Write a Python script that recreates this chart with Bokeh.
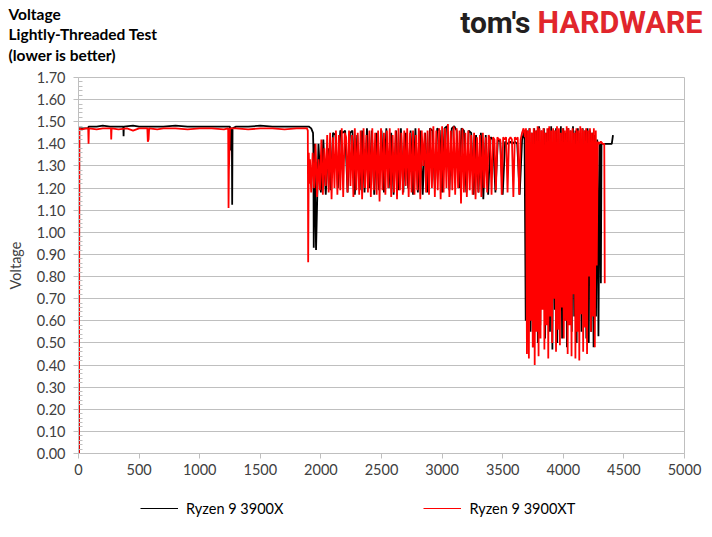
from bokeh.plotting import figure
from bokeh.layouts import column
from bokeh.models import Range1d, FixedTicker, NumeralTickFormatter, Label, Legend, ColumnDataSource
from bokeh.embed import file_html
from bokeh.resources import INLINE

# ---------------- data (seconds, volts) ----------------
# Ryzen 9 3900X : plateau
x_3900x_a = [4, 6, 40, 80, 83, 150, 200, 260, 300, 370, 372, 374, 450, 500, 600, 700, 800, 900,
             1000, 1100, 1200, 1250, 1255, 1259, 1265, 1268, 1271, 1300, 1400, 1500, 1600, 1700,
             1800, 1900, 1920, 1935, 1938, 1941, 1946, 1952]
v_3900x_a = [0.00, 1.47, 1.47, 1.47, 1.478, 1.478, 1.482, 1.478, 1.478, 1.478, 1.435, 1.478, 1.482,
             1.478, 1.478, 1.478, 1.482, 1.478, 1.478, 1.478, 1.478, 1.478, 1.37, 1.47, 1.47, 1.125,
             1.47, 1.478, 1.478, 1.482, 1.478, 1.478, 1.478, 1.478, 1.47, 1.45, 1.38, 0.93, 1.40, 1.20]
# Ryzen 9 3900X : busy section, sampled every 20 s from 1960 s
t0_3900x_b, dt_3900x_b = 1960, 20
v_3900x_b = [0.92, 1.40, 1.18, 1.42, 1.17, 1.38, 1.19, 1.45, 1.44, 1.20,
             1.46, 1.45, 1.46, 1.18, 1.45, 1.46, 1.17, 1.44, 1.19, 1.46,
             1.18, 1.47, 1.20, 1.46, 1.17, 1.45, 1.19, 1.46, 1.18, 1.47,
             1.20, 1.45, 1.17, 1.46, 1.19, 1.47, 1.18, 1.45, 1.20, 1.46,
             1.17, 1.47, 1.18, 1.46, 1.17, 1.45, 1.18, 1.47, 1.46, 1.20,
             1.47, 1.46, 1.18, 1.47, 1.48, 1.19, 1.47, 1.48, 1.46, 1.20,
             1.47, 1.46, 1.18, 1.46, 1.45, 1.17, 1.44, 1.18, 1.45, 1.15,
             1.44, 1.17, 1.43, 1.42, 1.18, 1.42, 1.41, 1.17, 1.41, 1.40,
             1.41, 1.40, 1.41, 1.40, 1.17, 1.42, 1.46]
# Ryzen 9 3900X : deep swings, sampled every 10 s from 3690 s
t0_3900x_c, dt_3900x_c = 3690, 10
v_3900x_c = [0.60, 1.46, 0.75, 1.47, 0.55, 1.45, 0.48, 1.47, 0.62, 1.46,
             0.50, 1.48, 0.58, 1.46, 0.70, 1.47, 0.52, 1.45, 0.90, 1.47,
             0.55, 1.48, 0.47, 1.46, 0.65, 1.47, 0.50, 1.46, 0.80, 1.48,
             0.52, 1.47, 0.60, 1.45, 0.48, 1.47, 0.70, 1.46, 0.55, 1.48,
             0.62, 1.46, 0.50, 1.47, 0.75, 1.45, 0.55, 1.47, 0.68, 1.46,
             0.52, 1.47, 0.50, 1.46, 0.55, 1.45, 0.48, 1.44, 0.62, 1.42,
             0.53]
x_3900x_d = [4300, 4310, 4315, 4350, 4380, 4400, 4410]
v_3900x_d = [1.40, 0.77, 1.40, 1.40, 1.40, 1.40, 1.44]

# Ryzen 9 3900XT : plateau
x_3900xt_a = [4, 7, 30, 60, 80, 83, 86, 150, 200, 268, 270, 273, 330, 400, 450, 500, 568, 572,
              578, 583, 650, 700, 800, 900, 1000, 1100, 1200, 1235, 1238, 1241, 1250, 1300,
              1400, 1500, 1600, 1700, 1800, 1885, 1892, 1895, 1900, 1905, 1910]
v_3900xt_a = [0.00, 1.47, 1.465, 1.47, 1.47, 1.40, 1.47, 1.465, 1.47, 1.47, 1.42, 1.47, 1.465,
              1.47, 1.46, 1.47, 1.47, 1.41, 1.42, 1.47, 1.465, 1.47, 1.47, 1.465, 1.47, 1.47,
              1.465, 1.47, 1.11, 1.28, 1.47, 1.47, 1.465, 1.47, 1.47, 1.465, 1.47, 1.47, 1.46,
              0.865, 1.36, 1.22, 1.33]
# Ryzen 9 3900XT : busy section, every 12 s from 1920 s
t0_3900xt_b, dt_3900xt_b = 1920, 12
v_3900xt_b = [1.18, 1.36, 1.20, 1.40, 1.16, 1.33, 1.19, 1.42, 1.17, 1.38,
              1.21, 1.44, 1.18, 1.45, 1.15, 1.43, 1.20, 1.46, 1.17, 1.44,
              1.19, 1.47, 1.16, 1.45, 1.43, 1.18, 1.46, 1.21, 1.44, 1.16,
              1.47, 1.19, 1.45, 1.17, 1.46, 1.15, 1.47, 1.20, 1.44, 1.18,
              1.46, 1.16, 1.47, 1.19, 1.45, 1.17, 1.46, 1.14, 1.47, 1.19,
              1.45, 1.17, 1.46, 1.20, 1.47, 1.16, 1.44, 1.18, 1.46, 1.15,
              1.47, 1.19, 1.45, 1.17, 1.46, 1.21, 1.47, 1.16, 1.45, 1.18,
              1.46, 1.17, 1.44, 1.19, 1.47, 1.15, 1.46, 1.30, 1.45, 1.18,
              1.46, 1.17, 1.47, 1.20, 1.48, 1.16, 1.46, 1.19, 1.47, 1.15,
              1.48, 1.18, 1.47, 1.20, 1.49, 1.16, 1.46, 1.19, 1.48, 1.17,
              1.47, 1.20, 1.46, 1.13, 1.47, 1.18, 1.45, 1.16, 1.46, 1.19,
              1.44, 1.17, 1.45, 1.15, 1.43, 1.18, 1.44, 1.16, 1.45, 1.20,
              1.43, 1.18, 1.44, 1.42, 1.17, 1.43, 1.42, 1.19, 1.43, 1.42,
              1.42, 1.17, 1.43, 1.42, 1.43, 1.18, 1.42, 1.43, 1.42, 1.16,
              1.43, 1.42, 1.43, 1.17, 1.42, 1.45, 1.47, 1.43]
# Ryzen 9 3900XT : deep swings, every 8 s from 3692 s
t0_3900xt_c, dt_3900xt_c = 3692, 8
v_3900xt_c = [1.47, 0.45, 1.46, 0.43, 1.47, 0.60, 1.45, 0.48, 1.47, 0.40,
              1.46, 0.55, 1.48, 0.44, 1.47, 0.52, 1.46, 0.65, 1.47, 0.47,
              1.45, 0.58, 1.47, 0.43, 1.48, 0.62, 1.46, 0.50, 1.47, 0.70,
              1.46, 0.46, 1.48, 0.56, 1.47, 0.49, 1.45, 0.66, 1.47, 0.52,
              1.46, 0.60, 1.48, 0.45, 1.47, 0.58, 1.46, 0.44, 1.47, 0.72,
              1.45, 0.43, 1.47, 0.55, 1.46, 0.42, 1.48, 0.63, 1.47, 0.46,
              1.46, 0.57, 1.47, 0.45, 1.46, 0.80, 1.47, 0.55, 1.45, 0.62,
              1.47, 0.48, 1.46, 0.85, 1.41]
x_3900xt_d = [4295, 4310, 4325, 4338, 4340, 4342]
v_3900xt_d = [1.40, 1.41, 1.40, 1.40, 1.12, 0.77]

y_ticks = [0.0, 0.1, 0.2, 0.3, 0.4, 0.5, 0.6, 0.7, 0.8, 0.9, 1.0, 1.1, 1.2, 1.3, 1.4, 1.5, 1.6, 1.7]
x_ticks = [0, 500, 1000, 1500, 2000, 2500, 3000, 3500, 4000, 4500, 5000]
series_names = ["Ryzen 9 3900X", "Ryzen 9 3900XT"]
series_colors = ["black", "#FF0000"]
title_lines = ["Voltage", "Lightly-Threaded Test", "(lower is better)"]


def grid(t0, dt, vals):
    return [t0 + dt * i for i in range(len(vals))]


bx = x_3900x_a + grid(t0_3900x_b, dt_3900x_b, v_3900x_b) + grid(t0_3900x_c, dt_3900x_c, v_3900x_c) + x_3900x_d
by = v_3900x_a + v_3900x_b + v_3900x_c + v_3900x_d
rx = x_3900xt_a + grid(t0_3900xt_b, dt_3900xt_b, v_3900xt_b) + grid(t0_3900xt_c, dt_3900xt_c, v_3900xt_c) + x_3900xt_d
ry = v_3900xt_a + v_3900xt_b + v_3900xt_c + v_3900xt_d

FONT = "Lato"
GRID = "#BFBFBF"
TXT = "#404040"
LW = 1.8
W = 712
HH = 67          # header strip
MH = 416         # main chart
FH = 537 - HH - MH  # legend strip


def no_align(f):
    if "frame_align" in f.properties():
        f.frame_align = False


def strip(height):
    f = figure(width=W, height=height, output_backend="svg", toolbar_location=None,
               x_range=Range1d(0, W), y_range=Range1d(0, height),
               x_axis_type=None, y_axis_type=None,
               min_border_left=0, min_border_right=0, min_border_top=0, min_border_bottom=0)
    f.outline_line_color = None
    f.xgrid.visible = False
    f.ygrid.visible = False
    f.background_fill_color = "white"
    f.border_fill_color = "white"
    no_align(f)
    return f


# ---- header: title block + logo ----
header = strip(HH)
for i, line in enumerate(title_lines):
    header.add_layout(Label(x=8, y=HH - 13.3 - 20.4 * i, text=line, text_font=FONT,
                            text_font_size="15.5px", text_font_style="bold", text_color="black",
                            text_baseline="alphabetic", text_align="left"))
header.add_layout(Label(x=530, y=HH - 22, text="tom's", text_font="Roboto",
                        text_font_size="30px", text_font_style="bold", text_color="#231F20",
                        text_baseline="alphabetic", text_align="right"))
header.add_layout(Label(x=702, y=HH - 22, text="HARDWARE", text_font="Roboto",
                        text_font_size="30.5px", text_font_style="bold", text_color="#E1262C",
                        text_baseline="alphabetic", text_align="right"))

# ---- main chart: plot area spans x 78..684, y 77..453 of the page ----
p = figure(width=W, height=MH, output_backend="svg", toolbar_location=None,
           x_range=Range1d(0, 5000), y_range=Range1d(0, 1.7),
           min_border_left=78, min_border_right=28, min_border_top=77 - HH,
           min_border_bottom=MH - (453 - HH))
p.background_fill_color = "white"
p.border_fill_color = "white"
p.outline_line_color = GRID
no_align(p)

p.line(x=bx, y=by, line_color=series_colors[0], line_width=LW)
p.line(x=rx, y=ry, line_color=series_colors[1], line_width=LW)

p.xgrid.visible = False
p.ygrid.grid_line_color = GRID
p.ygrid.grid_line_width = 1

minor = [round(i * 0.02, 2) for i in range(86) if i % 5 != 0]
p.yaxis.ticker = FixedTicker(ticks=y_ticks, minor_ticks=minor)
p.yaxis.formatter = NumeralTickFormatter(format="0.00")
p.xaxis.ticker = FixedTicker(ticks=x_ticks)
p.xaxis.formatter = NumeralTickFormatter(format="0")

for ax in (p.xaxis, p.yaxis):
    ax.axis_line_color = GRID
    ax.major_tick_line_color = GRID
    ax.minor_tick_line_color = GRID
    ax.major_tick_out = 5
    ax.major_tick_in = 0
    ax.major_label_text_font = FONT
    ax.major_label_text_font_size = "14.5px"
    ax.major_label_text_color = TXT
p.yaxis.minor_tick_in = 4
p.yaxis.minor_tick_out = 0
p.xaxis.minor_tick_line_color = None
p.yaxis.major_label_standoff = 8
p.xaxis.major_label_standoff = 5
p.yaxis.axis_label = "Voltage"
p.yaxis.axis_label_text_font = FONT
p.yaxis.axis_label_text_font_size = "14.5px"
p.yaxis.axis_label_text_font_style = "normal"
p.yaxis.axis_label_text_color = TXT
p.yaxis.axis_label_standoff = 10

# ---- legend strip ----
footer = strip(FH)
nan_src = ColumnDataSource(dict(x=[float("nan")], y=[float("nan")]))
k1 = footer.line("x", "y", source=nan_src, line_color=series_colors[0], line_width=1.2)
k2 = footer.line("x", "y", source=nan_src, line_color=series_colors[1], line_width=1.2)
legend = Legend(items=[(series_names[0], [k1]), (series_names[1], [k2])],
                orientation="horizontal", location=(140, FH - (508 - HH - MH) - 10),
                glyph_width=38, glyph_height=20, label_height=20, label_standoff=8,
                spacing=140, padding=0, margin=0, border_line_alpha=0, background_fill_alpha=0,
                label_text_font=FONT, label_text_font_size="14.5px", label_text_color="black")
footer.add_layout(legend)

layout = column(header, p, footer, spacing=0)
open("out.html", "w").write(file_html(layout, INLINE))
